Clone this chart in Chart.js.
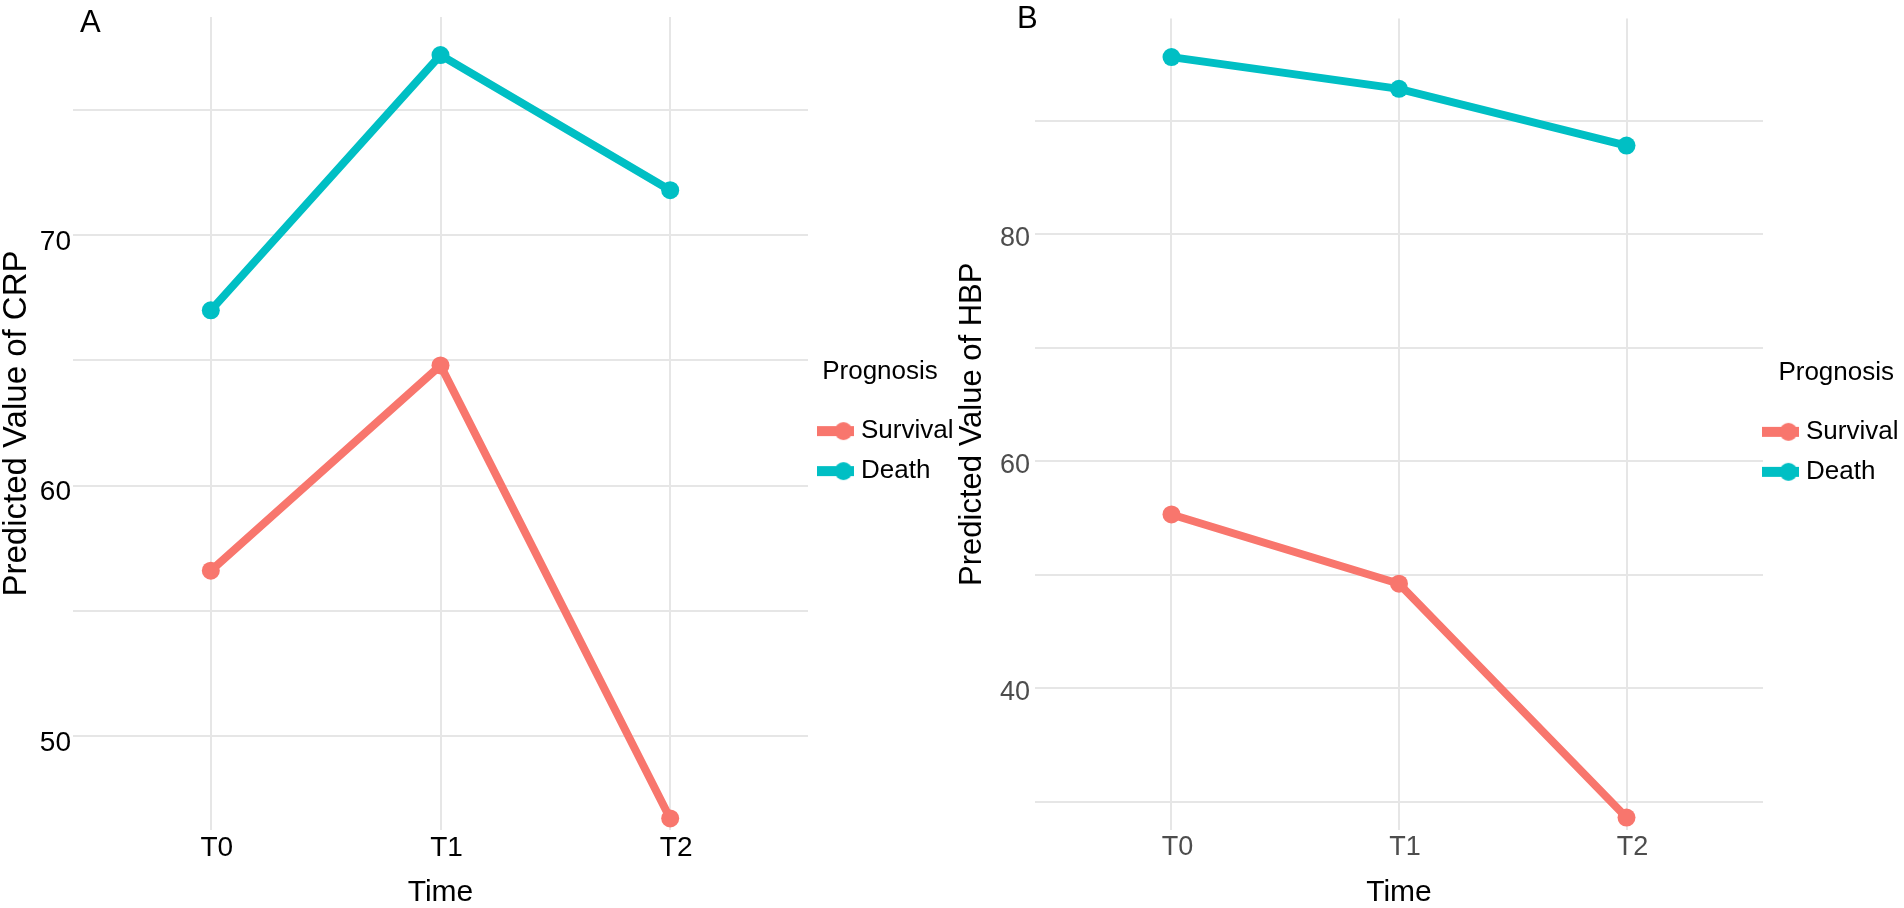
<!DOCTYPE html>
<html lang="en">
<head>
<meta charset="UTF-8">
<title>Predicted CRP and HBP</title>
<script src="https://cdn.jsdelivr.net/npm/chart.js"></script>
<style>
  body { margin: 0; background: #fff; }
  canvas { position: absolute; top: 0; }
  #crpChart { left: 0; }
  #hbpChart { left: 952px; }
</style>
</head>
<body>
<canvas id="crpChart" width="952" height="908"></canvas>
<canvas id="hbpChart" width="952" height="908"></canvas>
<script>
// values
const timePoints = ["T0", "T1", "T2"];
const groups = ["Survival", "Death"];
const crpSurvival = [56.6, 64.8, 46.7];
const crpDeath = [67.0, 77.2, 71.8];
const hbpSurvival = [55.3, 49.2, 28.6];
const hbpDeath = [95.6, 92.8, 87.8];
const crpGrid = [50, 55, 60, 65, 70, 75];
const crpTickLabels = [50, 60, 70];
const hbpGrid = [30, 40, 50, 60, 70, 80, 90];
const hbpTickLabels = [40, 60, 80];

const FONT = "'Liberation Sans', Arial, sans-serif";
const colors = { Survival: "#F8766D", Death: "#00BFC4" };

// line + dot key like the ggplot legend
function keyImage(color) {
  const c = document.createElement("canvas");
  c.width = 37;
  c.height = 20;
  const g = c.getContext("2d");
  g.fillStyle = color;
  g.fillRect(0, 5, 37, 10);
  g.beginPath();
  g.arc(27, 10, 9, 0, Math.PI * 2);
  g.fill();
  return c;
}

const panelTag = {
  id: "panelTag",
  afterDraw(chart, args, opts) {
    const ctx = chart.ctx;
    ctx.save();
    ctx.font = "31px " + FONT;
    ctx.fillStyle = "#000";
    ctx.fillText(opts.text, opts.x, opts.y);
    ctx.restore();
  }
};

// move the legend's left edge only (its clip box keeps the canvas edge)
const legendShift = {
  id: "legendShift",
  afterLayout(chart, args, opts) {
    if (chart.legend && opts.dx) {
      chart.legend.left += opts.dx;
    }
  }
};

function makeChart(id, cfg) {
  const toPoints = (arr) => arr.map((v, i) => ({ x: i, y: v }));
  const series = [cfg.survival, cfg.death];
  return new Chart(document.getElementById(id), {
    type: "line",
    data: {
      datasets: groups.map((g, k) => ({
        label: g,
        data: toPoints(series[k]),
        borderColor: colors[g],
        backgroundColor: colors[g],
        borderWidth: 8,
        pointRadius: 9,
        pointHoverRadius: 9,
        pointBorderWidth: 0,
        tension: 0
      }))
    },
    plugins: [panelTag, legendShift],
    options: {
      responsive: false,
      animation: false,
      layout: { padding: { top: 17, left: 0, right: 0, bottom: 0 } },
      scales: {
        x: {
          type: "linear",
          min: -0.6,
          max: 2.6,
          afterBuildTicks: (s) => { s.ticks = timePoints.map((t, i) => ({ value: i })); },
          afterFit: (s) => { s.height = 78; },
          border: { display: false },
          grid: { color: "#E6E6E6", lineWidth: 2, drawTicks: false },
          ticks: {
            callback: (v) => timePoints[v],
            autoSkip: false,
            maxRotation: 0,
            padding: 4,
            labelOffset: 6,
            color: cfg.tickColor,
            font: { family: FONT, size: cfg.tickSize, lineHeight: 1 }
          },
          title: {
            display: true,
            text: "Time",
            color: "#000",
            padding: 0,
            font: { family: FONT, size: 30, lineHeight: 1 }
          }
        },
        y: {
          min: cfg.yMin,
          max: cfg.yMax,
          afterBuildTicks: (s) => { s.ticks = cfg.grid.map((v) => ({ value: v })); },
          afterFit: (s) => { s.width = cfg.axisWidth; },
          border: { display: false },
          grid: { color: "#E6E6E6", lineWidth: 2, drawTicks: false },
          ticks: {
            callback: (v) => (cfg.labels.includes(v) ? String(v) : ""),
            padding: cfg.tickPad,
            labelOffset: cfg.labelOffset,
            color: cfg.tickColor,
            font: { family: FONT, size: cfg.tickSize, lineHeight: 1 }
          },
          title: {
            display: true,
            text: cfg.yTitle,
            color: "#000",
            padding: { top: cfg.titlePad, bottom: 0 },
            font: { family: FONT, size: cfg.titleSize, lineHeight: 1 }
          }
        }
      },
      plugins: {
        panelTag: { text: cfg.tag, x: cfg.tagX, y: cfg.tagY },
        legendShift: { dx: cfg.legendDx },
        tooltip: { enabled: false },
        legend: {
          position: "right",
          fullSize: false,
          maxWidth: cfg.legendWidth,
          title: {
            display: true,
            text: "Prognosis",
            position: cfg.legendTitlePos,
            color: "#000",
            padding: { top: 10, bottom: 14 },
            font: { family: FONT, size: 26 }
          },
          labels: {
            usePointStyle: true,
            pointStyleWidth: 26,
            padding: 14,
            color: "#000",
            font: { family: FONT, size: 26 },
            generateLabels: (chart) =>
              Chart.defaults.plugins.legend.labels.generateLabels(chart).map((item) => {
                item.pointStyle = keyImage(colors[item.text]);
                return item;
              })
          }
        }
      }
    }
  });
}

makeChart("crpChart", {
  survival: crpSurvival,
  death: crpDeath,
  grid: crpGrid,
  labels: crpTickLabels,
  yMin: 46.24,
  yMax: 78.72,
  yTitle: "Predicted Value of CRP",
  axisWidth: 73,
  tickPad: 2,
  labelOffset: 7,
  tickSize: 28,
  titleSize: 33,
  titlePad: 0,
  tickColor: "#000",
  tag: "A",
  tagX: 80,
  tagY: 32,
  legendWidth: 144,
  legendDx: 0,
  legendTitlePos: "center"
});

makeChart("hbpChart", {
  survival: hbpSurvival,
  death: hbpDeath,
  grid: hbpGrid,
  labels: hbpTickLabels,
  yMin: 27.5,
  yMax: 99.0,
  yTitle: "Predicted Value of HBP",
  axisWidth: 83,
  tickPad: 5,
  labelOffset: 4,
  tickSize: 27,
  titleSize: 31,
  titlePad: 5,
  tickColor: "#4D4D4D",
  tag: "B",
  tagX: 65,
  tagY: 28,
  legendWidth: 141,
  legendDx: -10,
  legendTitlePos: "end"
});
</script>
</body>
</html>
